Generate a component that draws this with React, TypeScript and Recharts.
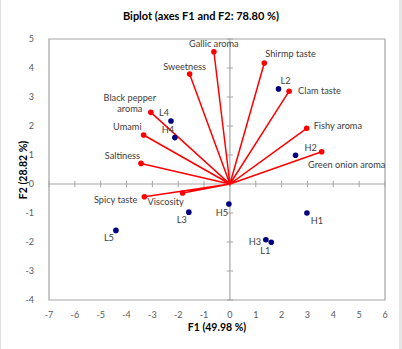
import React from "react";
import {
  ScatterChart,
  Scatter,
  XAxis,
  YAxis,
  ReferenceArea,
  ReferenceLine,
  Label,
} from "recharts";

// variable loadings (red vectors)
const varNames = [
  "Gallic aroma",
  "Sweetness",
  "Shirmp taste",
  "Clam taste",
  "Black pepper aroma",
  "Umami",
  "Saltiness",
  "Spicy taste",
  "Viscosity",
  "Fishy aroma",
  "Green onion aroma",
];
const varF1 = [-0.62, -1.56, 1.33, 2.29, -3.06, -3.34, -3.44, -3.31, -1.83, 2.97, 3.55];
const varF2 = [4.56, 3.79, 4.17, 3.2, 2.47, 1.69, 0.71, -0.44, -0.31, 1.92, 1.11];

// sample scores (blue points)
const obsNames = ["L2", "L4", "H4", "L3", "H5", "L5", "H2", "H1", "H3", "L1"];
const obsF1 = [1.88, -2.28, -2.13, -1.59, -0.04, -4.41, 2.54, 2.98, 1.39, 1.6];
const obsF2 = [3.28, 2.17, 1.6, -0.97, -0.69, -1.6, 0.99, -1.0, -1.92, -2.01];

const xTicks = [-7, -6, -5, -4, -3, -2, -1, 0, 1, 2, 3, 4, 5, 6];
const yTicks = [-4, -3, -2, -1, 0, 1, 2, 3, 4, 5];

// label placement relative to each marker: [dx, dy, anchor]
const labelPos: Record<string, [number, number, string]> = {
  "Gallic aroma": [0, -5, "middle"],
  Sweetness: [-5, -4, "middle"],
  "Shirmp taste": [1, -6, "start"],
  "Clam taste": [9, 3, "start"],
  "Black pepper aroma": [-21, -11, "middle"],
  Umami: [-2, -5, "end"],
  Saltiness: [-1, -4, "end"],
  "Spicy taste": [-7, 6, "end"],
  Viscosity: [-17, 12, "middle"],
  "Fishy aroma": [7, 1, "start"],
  "Green onion aroma": [25, 16, "middle"],
  L2: [7, -5, "middle"],
  L4: [-7, -5, "middle"],
  H4: [-7, -5, "middle"],
  L3: [-7, 11, "middle"],
  H5: [-7, 12, "middle"],
  L5: [-7, 11, "middle"],
  H2: [15, -4, "middle"],
  H1: [10, 11, "middle"],
  H3: [-11, 5, "middle"],
  L1: [-6, 12, "middle"],
};

const FONT = "Lato, 'Liberation Sans', Arial, sans-serif";
const TEXT = "#404040";
const GRID = "#a6a6a6";

// each vector starts at the origin, so the joined line fans out from (0,0)
const vectorData = varNames.flatMap((name, i) => [
  { x: 0, y: 0, name: "" },
  { x: varF1[i], y: varF2[i], name },
]);
const obsData = obsNames.map((name, i) => ({ x: obsF1[i], y: obsF2[i], name }));

function PointLabel({ name, cx, cy }: { name: string; cx: number; cy: number }) {
  const [dx, dy, anchor] = labelPos[name] ?? [0, 0, "middle"];
  const lines = name === "Black pepper aroma" ? ["Black pepper", "aroma"] : [name];
  return (
    <text
      x={cx + dx}
      y={cy + dy}
      textAnchor={anchor as any}
      fontSize={9.2}
      fontFamily={FONT}
      fill={TEXT}
    >
      {lines.map((l, k) => (
        <tspan key={k} x={cx + dx} dy={k === 0 ? 0 : 11}>
          {l}
        </tspan>
      ))}
    </text>
  );
}

const vectorShape = (props: any) => {
  const { cx, cy, payload } = props;
  if (!payload.name) return <g />;
  return (
    <g>
      <circle cx={cx} cy={cy} r={2.8} fill="#ff0000" />
      <PointLabel name={payload.name} cx={cx} cy={cy} />
    </g>
  );
};

const obsShape = (props: any) => {
  const { cx, cy, payload } = props;
  return (
    <g>
      <circle cx={cx} cy={cy} r={2.8} fill="#000080" />
      <PointLabel name={payload.name} cx={cx} cy={cy} />
    </g>
  );
};

const tickStyle = { fontSize: 9, fill: "#595959", fontFamily: FONT };

export default function App() {
  return (
    <div
      style={{
        position: "absolute",
        left: 0,
        top: 0,
        width: 402,
        height: 349,
        background: "#fff",
        borderLeft: "1px solid #e0e0e0",
        boxSizing: "border-box",
        fontFamily: FONT,
      }}
    >
      <div
        style={{
          position: "absolute",
          right: 0,
          top: 0,
          width: 3,
          height: 349,
          background: "#e6e6e6",
        }}
      />
      <div
        style={{
          position: "absolute",
          top: 9,
          left: 0,
          width: 400,
          textAlign: "center",
          fontWeight: 700,
          fontSize: 11,
          color: "#000",
        }}
      >
        Biplot (axes F1 and F2: 78.80 %)
      </div>
      {/* vertical axis title */}
      <div
        style={{
          position: "absolute",
          left: 22,
          top: 170,
          transform: "translate(-50%, -50%) rotate(-90deg)",
          whiteSpace: "nowrap",
          fontWeight: 700,
          fontSize: 10.5,
          color: "#000",
          zIndex: 2,
        }}
      >
        F2 (28.82 %)
      </div>
      <ScatterChart
        width={401}
        height={349}
        margin={{ top: 39, right: 17, bottom: 19, left: 0 }}
        style={{ position: "absolute", left: 0, top: 0 }}
      >
        <XAxis
          type="number"
          dataKey="x"
          domain={[-7, 6]}
          ticks={xTicks}
          interval={0}
          axisLine={false}
          tickLine={false}
          tick={tickStyle}
          tickMargin={6}
          height={30}
        >
          <Label
            value="F1 (49.98 %)"
            position="insideBottom"
            offset={-1}
            style={{ fontSize: 10.5, fontWeight: 700, fill: "#000", fontFamily: FONT }}
          />
        </XAxis>
        <YAxis
          type="number"
          dataKey="y"
          domain={[-4, 5]}
          ticks={yTicks}
          interval={0}
          axisLine={false}
          tickLine={false}
          tick={tickStyle}
          tickMargin={9}
          width={48}
        />
        <ReferenceArea
          x1={-7}
          x2={6}
          y1={-4}
          y2={5}
          fill="none"
          stroke={GRID}
          strokeWidth={1.2}
        />
        <ReferenceLine x={0} stroke={GRID} strokeWidth={1.2} />
        <ReferenceLine y={0} stroke={GRID} strokeWidth={1.2} />
        {xTicks.map((t) => (
          <ReferenceLine
            key={"xt" + t}
            segment={[
              { x: t, y: -0.11 },
              { x: t, y: 0.11 },
            ]}
            stroke={GRID}
          />
        ))}
        {yTicks.map((t) => (
          <ReferenceLine
            key={"yt" + t}
            segment={[
              { x: -0.12, y: t },
              { x: 0.12, y: t },
            ]}
            stroke={GRID}
          />
        ))}
        <Scatter
          data={vectorData}
          line={{ stroke: "#ff0000", strokeWidth: 1.5 }}
          shape={vectorShape}
          isAnimationActive={false}
        />
        <Scatter data={obsData} shape={obsShape} isAnimationActive={false} />
      </ScatterChart>
    </div>
  );
}
